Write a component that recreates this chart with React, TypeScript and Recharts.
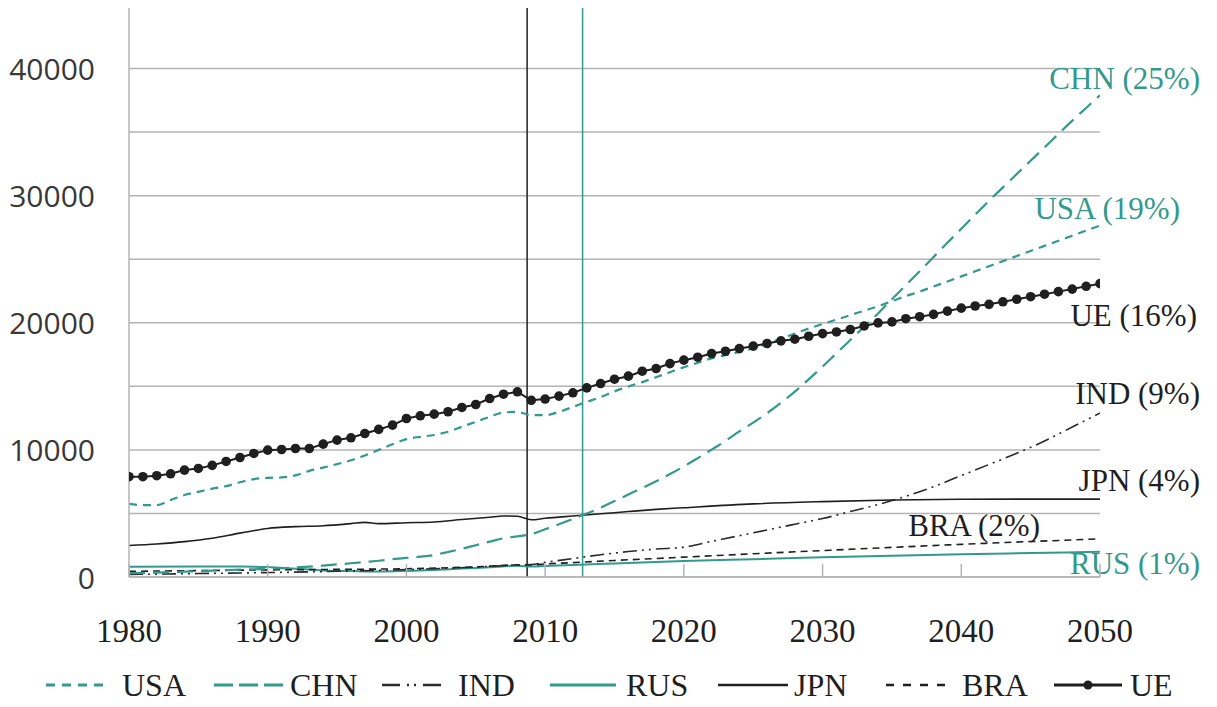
import React from 'react';
import { LineChart, Line, XAxis, YAxis, CartesianGrid, ReferenceLine, ReferenceDot, Legend } from 'recharts';

const W = 1217;
const H = 707;
const TEAL = '#33998d';
const INK = '#1f1f1f';
const GRID = '#b4b4b4';
const SERIF = '"Liberation Serif", "DejaVu Serif", serif';
const SANS = '"Open Sans", "DejaVu Sans", sans-serif';

// ---- data ----
const YEARS = Array.from({ length: 71 }, (_, i) => 1980 + i);

const UE = [
  7890, 7890, 7970, 8120, 8410, 8540, 8780, 9090, 9400, 9720,
  9980, 10030, 10110, 10110, 10450, 10770, 10950, 11290, 11610, 11950,
  12470, 12680, 12810, 13000, 13340, 13570, 14040, 14380, 14570, 13900,
  14000, 14230, 14490, 14880, 15220, 15560, 15800, 16190, 16400, 16790,
  17060, 17290, 17580, 17760, 17970, 18160, 18370, 18580, 18710, 18940,
  19150, 19280, 19470, 19750, 19990, 20070, 20320, 20480, 20660, 20920,
  21150, 21320, 21450, 21650, 21850, 22050, 22250, 22450, 22650, 22870,
  23080,
];

const USA = [
  5750, 5650, 5650, 6050, 6450, 6700, 6950, 7150, 7450, 7700,
  7800, 7830, 8000, 8350, 8600, 8880, 9180, 9560, 10000, 10450,
  10850, 11030, 11170, 11430, 11820, 12210, 12600, 12940, 12990, 12730,
  12730, 12990, 13380, 13770, 14160, 14600, 14990, 15330, 15720, 16110,
  16500, 16850, 17200, 17450, 17700, 18000, 18350, 18750, 19150, 19550,
  19900, 20250, 20600, 20950, 21300, 21700, 22100, 22450, 22850, 23250,
  23650, 24050, 24450, 24850, 25250, 25650, 26050, 26450, 26850, 27250,
  27650,
];

const CHN = [
  300, 320, 350, 380, 420, 460, 500, 540, 580, 610,
  640, 690, 750, 820, 900, 990, 1080, 1180, 1280, 1400,
  1500, 1600, 1730, 1970, 2220, 2500, 2780, 3050, 3200, 3370,
  3760, 4150, 4560, 5000, 5450, 5970, 6490, 7000, 7530, 8100,
  8700, 9350, 10020, 10700, 11450, 12150, 12890, 13700, 14590, 15550,
  16550, 17600, 18640, 19700, 20730, 21850, 22950, 24050, 25180, 26290,
  27400, 28500, 29600, 30650, 31700, 32750, 33800, 34850, 35900, 36900,
  37900,
];

const IND_YEARS = [1980, 1985, 1990, 1995, 2000, 2005, 2008, 2009, 2010, 2012, 2014, 2016, 2018, 2020, 2022, 2024, 2026, 2028, 2030, 2032, 2034, 2036, 2038, 2040, 2042, 2044, 2046, 2048, 2050];
const IND = [200, 270, 350, 450, 580, 780, 950, 980, 1150, 1450, 1750, 2000, 2200, 2350, 2800, 3250, 3700, 4150, 4600, 5150, 5700, 6350, 7100, 7980, 8850, 9730, 10700, 11800, 12900];

const RUS_YEARS = [1980, 1985, 1988, 1990, 1992, 1994, 1996, 1998, 2000, 2002, 2004, 2006, 2008, 2009, 2010, 2012, 2015, 2020, 2025, 2030, 2035, 2040, 2045, 2050];
const RUS = [800, 820, 830, 780, 650, 520, 470, 430, 480, 560, 660, 770, 880, 820, 870, 950, 1060, 1250, 1400, 1550, 1670, 1780, 1880, 1980];

const JPN_YEARS = [1980, 1982, 1984, 1986, 1988, 1990, 1992, 1994, 1996, 1997, 1998, 2000, 2002, 2004, 2006, 2007, 2008, 2009, 2010, 2012, 2014, 2016, 2018, 2020, 2025, 2030, 2035, 2040, 2045, 2050];
const JPN = [2480, 2600, 2780, 3050, 3450, 3820, 3960, 4030, 4200, 4300, 4200, 4270, 4330, 4520, 4700, 4800, 4780, 4500, 4620, 4800, 4970, 5150, 5320, 5450, 5750, 5930, 6060, 6120, 6130, 6130];

const BRA_YEARS = [1980, 1985, 1990, 1995, 2000, 2005, 2008, 2009, 2010, 2012, 2015, 2020, 2025, 2030, 2035, 2040, 2045, 2050];
const BRA = [450, 500, 560, 600, 650, 800, 950, 950, 1030, 1130, 1300, 1560, 1830, 2080, 2330, 2570, 2790, 3000];

const X_TICKS = [1980, 1990, 2000, 2010, 2020, 2030, 2040, 2050];
const Y_TICKS = [0, 5000, 10000, 15000, 20000, 25000, 30000, 35000, 40000, 45000];
const Y_LABELED = [0, 10000, 20000, 30000, 40000];

const LEGEND_ITEMS = ['USA', 'CHN', 'IND', 'RUS', 'JPN', 'BRA', 'UE'];

const toPoints = (years: number[], values: number[]) => years.map((year, i) => ({ year, v: values[i] }));

// ---- styles ----
const STYLE: Record<string, { color: string; width: number; dash?: string; legendDash?: string; iconLen: number }> = {
  USA: { color: TEAL, width: 2.2, dash: '8 6', legendDash: '9 7', iconLen: 60 },
  CHN: { color: TEAL, width: 2.2, dash: '16 8', legendDash: '19 6', iconLen: 69 },
  IND: { color: '#2a2a2a', width: 1.6, dash: '14 5 2 5 2 5', legendDash: '18 7 2 5 2 7 18 40', iconLen: 66 },
  RUS: { color: TEAL, width: 2, iconLen: 66 },
  JPN: { color: INK, width: 1.6, iconLen: 70 },
  BRA: { color: INK, width: 1.6, dash: '7 5', legendDash: '8 9', iconLen: 59 },
  UE: { color: INK, width: 2, iconLen: 68 },
};

const XTick = (props: any) => {
  const { x, y, payload } = props;
  return (
    <g>
      <line x1={x} x2={x} y1={y - 40} y2={y - 53} stroke={GRID} strokeWidth={1.5} />
      <text x={x} y={y + 14} textAnchor="middle" dominantBaseline="central" fontFamily={SERIF} fontSize={33} fill={INK}>
        {payload.value}
      </text>
    </g>
  );
};

const YTick = (props: any) => {
  const { x, y, payload } = props;
  if (!Y_LABELED.includes(payload.value)) return <g />;
  return (
    <text x={x} y={y} textAnchor="end" dominantBaseline="central" fontFamily={SANS} fontSize={30} fill="#383838">
      {payload.value}
    </text>
  );
};

const anno = (text: string, color: string, dx: number) => (props: any) => {
  const vb = props.viewBox || {};
  return (
    <text x={vb.x + dx} y={vb.y} textAnchor="end" dominantBaseline="central" fontFamily={SERIF} fontSize={31} fill={color}>
      {text}
    </text>
  );
};

const LegendContent = () => (
  <svg width={W} height={46} style={{ display: 'block', overflow: 'visible' }}>
    {LEGEND_ITEMS.map((name, i) => {
      const s = STYLE[name];
      const x0 = 46 + i * 168;
      return (
        <g key={name}>
          <line x1={x0} x2={x0 + s.iconLen} y1={23} y2={23} stroke={s.color} strokeWidth={s.width + 0.8} strokeDasharray={s.legendDash} />
          {name === 'UE' && <circle cx={x0 + s.iconLen / 2} cy={23} r={4.5} fill={INK} />}
          <text x={x0 + 76} y={23} dominantBaseline="central" fontFamily={SERIF} fontSize={32} fill={INK}>
            {name}
          </text>
        </g>
      );
    })}
  </svg>
);

export default function App() {
  return (
    <div style={{ position: 'relative', left: -8, top: -8, width: W, height: H, background: '#fff' }}>
      <LineChart width={W} height={H} margin={{ top: 5, right: 117, bottom: 70, left: 0 }}>
        <CartesianGrid horizontal vertical={false} stroke={GRID} strokeWidth={1.5} />
        <XAxis
          dataKey="year"
          type="number"
          domain={[1980, 2050]}
          ticks={X_TICKS}
          interval={0}
          height={60}
          tickSize={0}
          tickMargin={40}
          tickLine={false}
          axisLine={{ stroke: GRID, strokeWidth: 1.5 }}
          tick={<XTick />}
          allowDataOverflow
        />
        <YAxis
          type="number"
          domain={[0, 45000]}
          ticks={Y_TICKS}
          interval={0}
          width={129}
          tickSize={0}
          tickMargin={34}
          tickLine={false}
          axisLine={{ stroke: GRID, strokeWidth: 1.5 }}
          tick={<YTick />}
          allowDataOverflow
        />
        <ReferenceLine x={2008.7} stroke={INK} strokeWidth={1.5} />
        <ReferenceLine x={2012.7} stroke={TEAL} strokeWidth={1.5} />

        <Line data={toPoints(RUS_YEARS, RUS)} dataKey="v" name="RUS" type="monotone" stroke={STYLE.RUS.color} strokeWidth={STYLE.RUS.width} dot={false} activeDot={false} isAnimationActive={false} />
        <Line data={toPoints(BRA_YEARS, BRA)} dataKey="v" name="BRA" type="monotone" stroke={STYLE.BRA.color} strokeWidth={STYLE.BRA.width} strokeDasharray={STYLE.BRA.dash} dot={false} activeDot={false} isAnimationActive={false} />
        <Line data={toPoints(IND_YEARS, IND)} dataKey="v" name="IND" type="monotone" stroke={STYLE.IND.color} strokeWidth={STYLE.IND.width} strokeDasharray={STYLE.IND.dash} dot={false} activeDot={false} isAnimationActive={false} />
        <Line data={toPoints(JPN_YEARS, JPN)} dataKey="v" name="JPN" type="monotone" stroke={STYLE.JPN.color} strokeWidth={STYLE.JPN.width} dot={false} activeDot={false} isAnimationActive={false} />
        <Line data={toPoints(YEARS, CHN)} dataKey="v" name="CHN" type="monotone" stroke={STYLE.CHN.color} strokeWidth={STYLE.CHN.width} strokeDasharray={STYLE.CHN.dash} dot={false} activeDot={false} isAnimationActive={false} />
        <Line data={toPoints(YEARS, USA)} dataKey="v" name="USA" type="monotone" stroke={STYLE.USA.color} strokeWidth={STYLE.USA.width} strokeDasharray={STYLE.USA.dash} dot={false} activeDot={false} isAnimationActive={false} />
        <Line data={toPoints(YEARS, UE)} dataKey="v" name="UE" type="linear" stroke={STYLE.UE.color} strokeWidth={STYLE.UE.width} dot={{ r: 4.8, fill: INK, stroke: INK, strokeWidth: 0 }} activeDot={false} isAnimationActive={false} />

        <ReferenceDot x={2050} y={39200} r={0} fill="none" stroke="none" ifOverflow="visible" label={anno('CHN (25%)', TEAL, 100)} />
        <ReferenceDot x={2050} y={29000} r={0} fill="none" stroke="none" ifOverflow="visible" label={anno('USA (19%)', TEAL, 80)} />
        <ReferenceDot x={2050} y={20600} r={0} fill="none" stroke="none" ifOverflow="visible" label={anno('UE (16%)', INK, 97)} />
        <ReferenceDot x={2050} y={14460} r={0} fill="none" stroke="none" ifOverflow="visible" label={anno('IND (9%)', INK, 100)} />
        <ReferenceDot x={2050} y={7620} r={0} fill="none" stroke="none" ifOverflow="visible" label={anno('JPN (4%)', INK, 100)} />
        <ReferenceDot x={2050} y={4090} r={0} fill="none" stroke="none" ifOverflow="visible" label={anno('BRA (2%)', INK, -60)} />
        <ReferenceDot x={2050} y={1100} r={0} fill="none" stroke="none" ifOverflow="visible" label={anno('RUS (1%)', TEAL, 100)} />

        <Legend
          verticalAlign="bottom"
          content={() => <LegendContent />}
          wrapperStyle={{ position: 'absolute', left: 0, top: 662, width: W, height: 0, overflow: 'visible' }}
        />
      </LineChart>
    </div>
  );
}
